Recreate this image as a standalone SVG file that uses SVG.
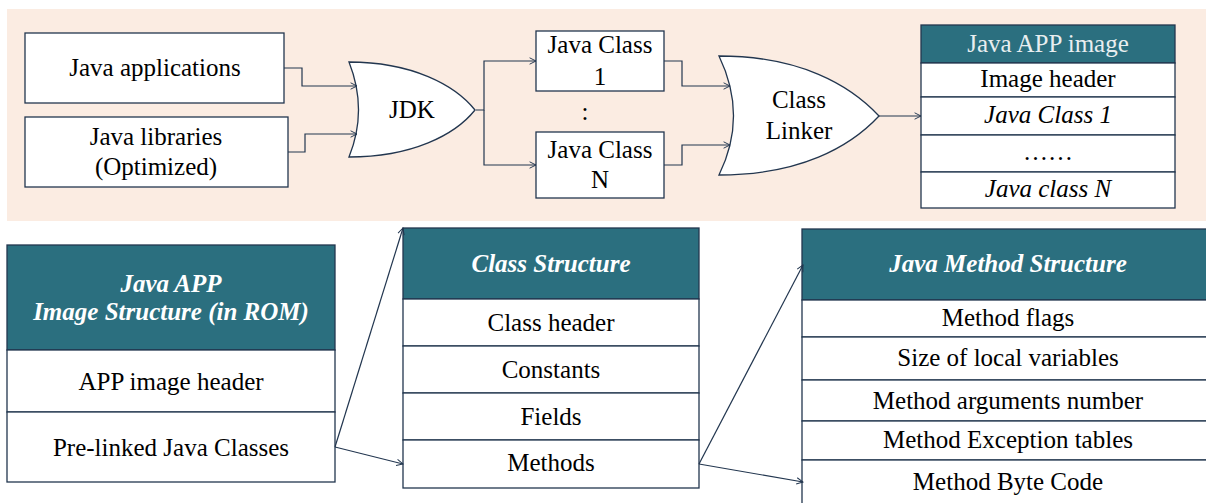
<svg xmlns="http://www.w3.org/2000/svg" width="1206" height="503" viewBox="0 0 1206 503">
<defs>
<style>
.box{fill:#ffffff;stroke:#22364f;stroke-width:1.3}
.hdr{fill:#2b6f7f;stroke:#22364f;stroke-width:1.3}
.gate{fill:#ffffff;stroke:#22364f;stroke-width:1.3}
text{font-family:'Liberation Serif',Tinos,'DejaVu Serif',serif;font-size:25px;text-anchor:middle}
.t{fill:#000}
.h{fill:#ffffff;font-weight:bold;font-style:italic}
.hn{fill:#e8eef0}
.i{font-style:italic}
.c{fill:none;stroke:#22364f;stroke-width:1.2}
</style>
<marker id="arr" viewBox="0 0 10 10" refX="9" refY="5" markerWidth="8" markerHeight="8" markerUnits="userSpaceOnUse" orient="auto">
<path d="M1,1 L9,5 L1,9" fill="none" stroke="#22364f" stroke-width="1.2"/>
</marker>
</defs>
<rect x="7" y="9" width="1199" height="212" fill="#fbece2"/>

<g id="java-apps">
<rect class="box" x="25" y="33" width="259" height="70"/>
<text class="t" x="155" y="76">Java  applications</text>
</g>
<g id="java-libs">
<rect class="box" x="25" y="117" width="263" height="70"/>
<text class="t" x="156" y="145">Java libraries</text>
<text class="t" x="156" y="175">(Optimized)</text>
</g>
<g id="jdk">
<path class="gate" d="M349,62 C412,62 455,85 475,110 C455,135 412,157 349,157 Q368,110 349,62 Z"/>
<text class="t" x="412" y="118">JDK</text>
</g>
<g id="class1">
<rect class="box" x="536" y="31" width="128" height="60"/>
<text class="t" x="600" y="53">Java Class</text>
<text class="t" x="600" y="85">1</text>
</g>
<g id="dots">
<text class="t" x="585" y="120">:</text>
</g>
<g id="classN">
<rect class="box" x="536" y="132" width="128" height="66"/>
<text class="t" x="600" y="158">Java Class</text>
<text class="t" x="600" y="188">N</text>
</g>
<g id="linker">
<path class="gate" d="M719,56 C800,56 850,85 879,116 C850,147 800,175 719,175 Q748,116 719,56 Z"/>
<text class="t" x="799" y="108">Class</text>
<text class="t" x="799" y="139">Linker</text>
</g>
<g id="app-image">
<rect class="hdr" x="921" y="25" width="254" height="38"/>
<text class="hn" x="1048" y="52">Java APP image</text>
<rect class="box" x="921" y="63" width="254" height="34"/>
<text class="t" x="1048" y="87">Image header</text>
<rect class="box" x="921" y="97" width="254" height="38"/>
<text class="t i" x="1048" y="123">Java Class 1</text>
<rect class="box" x="921" y="135" width="254" height="37"/>
<text class="t" x="1048" y="160">……</text>
<rect class="box" x="921" y="172" width="254" height="36"/>
<text class="t i" x="1048" y="197">Java class N</text>
</g>

<g id="rom-structure">
<rect class="hdr" x="7" y="245" width="328" height="105"/>
<text class="h" x="171" y="292">Java APP</text>
<text class="h" x="171" y="320">Image Structure (in ROM)</text>
<rect class="box" x="7" y="350" width="328" height="62"/>
<text class="t" x="171" y="390">APP image header</text>
<rect class="box" x="7" y="412" width="328" height="70"/>
<text class="t" x="171" y="456">Pre-linked Java Classes</text>
</g>
<g id="class-structure">
<rect class="hdr" x="403" y="228" width="296" height="71"/>
<text class="h" x="551" y="272">Class Structure</text>
<rect class="box" x="403" y="299" width="296" height="47"/>
<text class="t" x="551" y="331">Class header</text>
<rect class="box" x="403" y="346" width="296" height="47"/>
<text class="t" x="551" y="378">Constants</text>
<rect class="box" x="403" y="393" width="296" height="47"/>
<text class="t" x="551" y="425">Fields</text>
<rect class="box" x="403" y="440" width="296" height="48"/>
<text class="t" x="551" y="471">Methods</text>
</g>
<g id="method-structure">
<rect class="hdr" x="802" y="229" width="412" height="71"/>
<text class="h" x="1008" y="272">Java Method Structure</text>
<rect class="box" x="802" y="300" width="412" height="37"/>
<text class="t" x="1008" y="326">Method flags</text>
<rect class="box" x="802" y="337" width="412" height="43"/>
<text class="t" x="1008" y="366">Size of local variables</text>
<rect class="box" x="802" y="380" width="412" height="41"/>
<text class="t" x="1008" y="409">Method arguments number</text>
<rect class="box" x="802" y="421" width="412" height="39"/>
<text class="t" x="1008" y="448">Method Exception tables</text>
<rect class="box" x="802" y="460" width="412" height="60"/>
<text class="t" x="1008" y="490">Method Byte Code</text>
</g>

<g id="connectors">
<path class="c" d="M284,68 H302 V86 H357" marker-end="url(#arr)"/>
<path class="c" d="M288,152 H305 V134 H357" marker-end="url(#arr)"/>
<path class="c" d="M476,110 H484 V61 H536" marker-end="url(#arr)"/>
<path class="c" d="M484,110 V165 H536" marker-end="url(#arr)"/>
<path class="c" d="M664,61 H682 V86 H730" marker-end="url(#arr)"/>
<path class="c" d="M664,165 H682 V145 H730" marker-end="url(#arr)"/>
<path class="c" d="M879,116 H921" marker-end="url(#arr)"/>
<path class="c" d="M335,447 L403,228" marker-end="url(#arr)"/>
<path class="c" d="M335,447 L403,464" marker-end="url(#arr)"/>
<path class="c" d="M699,464 L803,265" marker-end="url(#arr)"/>
<path class="c" d="M699,464 L803,482" marker-end="url(#arr)"/>
</g>
</svg>
